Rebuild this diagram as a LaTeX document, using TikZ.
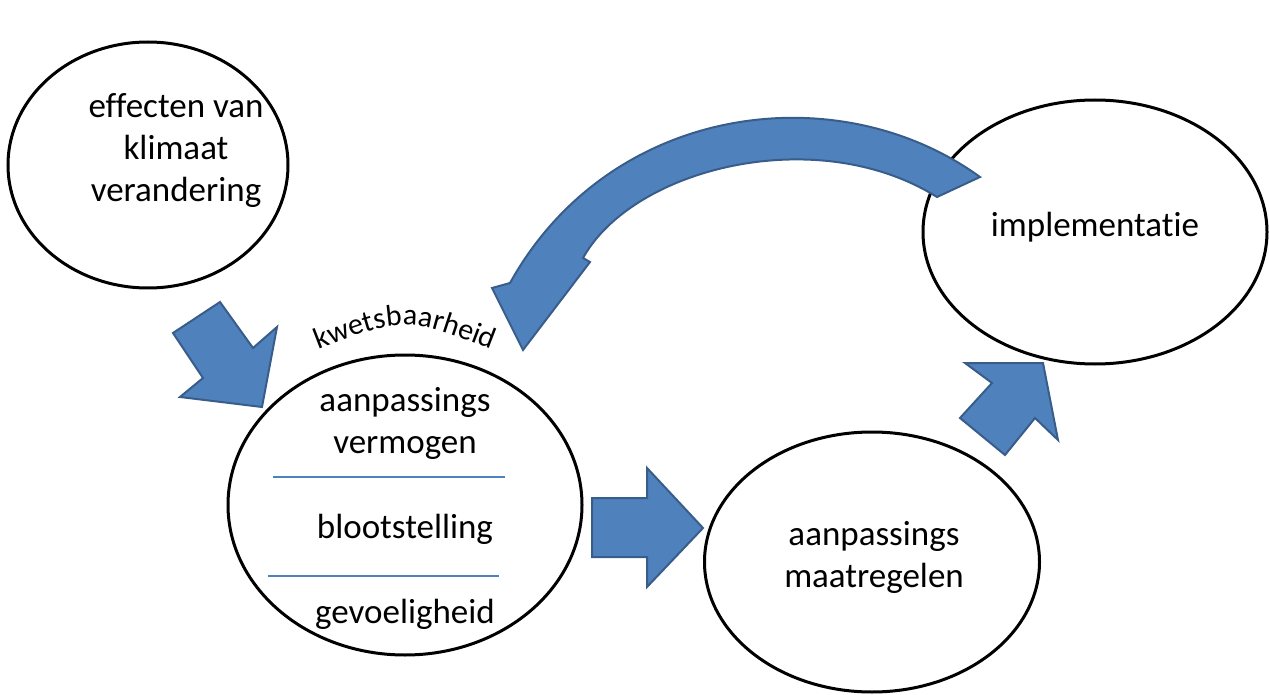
\documentclass[tikz,border=0pt]{standalone}
\usepackage{xcolor}
\usepackage{fontspec}
\setmainfont{Carlito}[Ligatures=NoCommon]
\usepackage{tikz}
\usetikzlibrary{shapes.geometric,decorations.text}

\definecolor{arrowblue}{HTML}{4F81BD}
\definecolor{arrowedge}{HTML}{385D8A}

\begin{document}
\begin{tikzpicture}[x=1pt, y=-1pt,
  bubble/.style={draw, ellipse, line width=3pt, inner sep=0pt},
  label/.style={anchor=base, align=center, font=\fontsize{35}{42}\selectfont},
  blockarrow/.style={fill=arrowblue, draw=arrowedge, line width=2pt, line join=miter},
  divider/.style={draw=arrowblue, line width=1.3pt}]
  \useasboundingbox (0,0) rectangle (1270,695);

  \node (effecten) [bubble, minimum width=280pt, minimum height=246pt] at (148,165) {};
  \node (kwets) [bubble, minimum width=354pt, minimum height=300pt] at (405,505) {};
  \node (maatregel) [bubble, minimum width=335pt, minimum height=260pt] at (872,562) {};
  \node (implement) [bubble, minimum width=344pt, minimum height=264pt] at (1095,232) {};

  % multi-line labels sit on their last baseline
  \node (efftext) [label] at (176,202) {effecten van\\klimaat\\verandering};
  \node (vermogen) [label] at (405,453) {aanpassings\\vermogen};
  \node (bloot) [label] at (405,538) {blootstelling};
  \node (gevoelig) [label] at (405,623) {gevoeligheid};
  \node (maattext) [label] at (874,587) {aanpassings\\maatregelen};
  \node (impltext) [label] at (1095,237) {implementatie};

  \draw [divider] (273,477) -- (505,477);
  \draw [divider] (268,576) -- (499,576);

  \path [decorate, decoration={text along path, text align=center,
    text={|\fontsize{30}{36}\selectfont|kwetsbaarheid}}]
    (312,352) .. controls (405,316) .. (498,352);

  % block arrows
  \draw [blockarrow] (173,333) -- (220,302) -- (253,348) -- (277,327) -- (262,407)
    -- (180,397) -- (203,378) -- cycle;
  \draw [blockarrow] (592,498) -- (647,498) -- (647,468) -- (703,528) -- (647,587)
    -- (647,557) -- (592,557) -- cycle;
  \draw [blockarrow] (965,363) -- (1043,363) -- (1058,440) -- (1035,418) -- (1005,455)
    -- (960,418) -- (992,383) -- cycle;
  \draw [blockarrow] (980,177) .. controls (838,74) and (610,103) .. (510,283)
    -- (492,288) -- (523,350) -- (590,262) -- (583,258)
    .. controls (633,168) and (817,122) .. (937,197) -- cycle;
\end{tikzpicture}
\end{document}
